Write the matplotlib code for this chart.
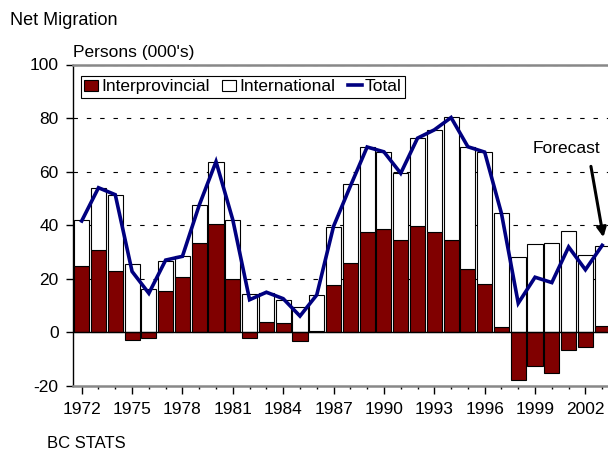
import matplotlib
matplotlib.use("Agg")
import matplotlib.pyplot as plt
import numpy as np
from matplotlib.patches import Patch
from matplotlib.lines import Line2D
from matplotlib.ticker import MultipleLocator, FixedLocator

plt.rcParams['font.family'] = ['Liberation Sans', 'DejaVu Sans']
plt.rcParams['axes.unicode_minus'] = False

years = list(range(1972, 2004))
interprovincial = [24.9, 30.6, 22.75, -2.9, -1.9, 15.4, 20.75, 33.5, 40.5, 20.0,
                   -2.0, 4.0, 3.5, -3.25, 0.6, 17.6, 26.0, 37.4, 38.6, 34.6,
                   39.9, 37.4, 34.5, 23.5, 17.9, 2.0, -17.6, -12.4, -15.0, -6.4,
                   -5.4, 2.25]
international = [17.0, 23.4, 28.65, 25.5, 16.25, 11.35, 7.65, 14.0, 23.25, 22.1,
                 14.25, 10.6, 8.75, 9.4, 13.3, 21.8, 29.4, 31.85, 28.8, 25.0,
                 32.6, 38.2, 45.75, 45.75, 49.35, 42.4, 28.25, 32.9, 33.4, 38.0,
                 28.9, 29.85]
total = [41.6, 54.0, 51.4, 22.75, 14.6, 27.0, 28.4, 47.5, 63.75, 42.0,
         12.2, 15.0, 12.6, 6.1, 14.0, 39.6, 54.6, 69.2, 67.4, 59.4,
         72.5, 75.6, 80.2, 69.3, 67.3, 44.4, 10.9, 20.6, 18.6, 31.9,
         23.4, 32.5]
tick_years = list(range(1972, 2003, 3))

W, H = 608, 449
fig = plt.figure(figsize=(W / 100, H / 100), dpi=100)
left, right, top, bottom = 73.3, 610.6, 64.5, 386.0
ax = fig.add_axes([left / W, 1 - bottom / H, (right - left) / W, (bottom - top) / H])

FS = 12.5

x = np.array(years)
ip = np.array(interprovincial)
it = np.array(international)
bw = 0.9
ax.bar(x, ip, width=bw, color='#800000', edgecolor='black', linewidth=0.8, zorder=3)
ax.bar(x, it, width=bw, bottom=np.maximum(ip, 0), color='white', edgecolor='black',
       linewidth=0.8, zorder=3)
ax.plot(x, total, color='#000080', linewidth=2.6, zorder=5, solid_joinstyle='miter')

ax.set_xlim(1971.5, 2003.5)
ax.set_ylim(-20, 100)
ax.set_yticks(range(-20, 101, 20))
ax.xaxis.set_major_locator(FixedLocator(tick_years))
ax.xaxis.set_minor_locator(MultipleLocator(1))
ax.set_xticklabels([str(y) for y in tick_years])
ax.tick_params(axis='x', which='major', length=5.8, width=1, labelsize=FS, pad=5.5)
ax.tick_params(axis='x', which='minor', length=2.4, width=1)
ax.tick_params(axis='y', length=5, width=1, labelsize=FS, pad=5.5)

for yv in [20, 40, 60, 80, 100]:
    ax.axhline(yv, color='black', linestyle=(0, (4, 8)), linewidth=0.8, zorder=1)
ax.axhline(0, color='black', linewidth=1.0, zorder=4)

ax.spines['right'].set_visible(False)
ax.spines['top'].set_color('#888888')
ax.spines['top'].set_linewidth(1.8)
ax.spines['bottom'].set_color('#888888')
ax.spines['bottom'].set_linewidth(1.8)
ax.spines['left'].set_color('black')
ax.spines['left'].set_linewidth(1.0)

handles = [Patch(facecolor='#800000', edgecolor='black', linewidth=0.8),
           Patch(facecolor='white', edgecolor='black', linewidth=0.8),
           Line2D([0], [0], color='#000080', linewidth=2.6)]
leg = fig.legend(handles, ['Interprovincial', 'International', 'Total'],
                 loc='upper left', bbox_to_anchor=(80.7 / W, 1 - 75.7 / H),
                 ncol=3, fontsize=FS, frameon=True, fancybox=False,
                 edgecolor='black', framealpha=1, borderaxespad=0,
                 handlelength=0.8, handleheight=0.6, handletextpad=0.2,
                 columnspacing=0.7, borderpad=0.2)
leg.get_frame().set_linewidth(0.8)
leg.set_zorder(10)

ax.text(2000.87, 66.9, 'Forecast', ha='center', va='baseline', fontsize=FS, zorder=6)
ax.annotate('', xy=(2003.1, 34.5), xytext=(2002.3, 63),
            arrowprops=dict(arrowstyle='-|>', color='black', lw=2.2, mutation_scale=14),
            zorder=6)

fig.text(10 / W, 1 - 25 / H, 'Net Migration', fontsize=13, ha='left', va='baseline')
fig.text(73 / W, 1 - 57 / H, "Persons (000's)", fontsize=FS, ha='left', va='baseline')
fig.text(47 / W, 1 - 447.5 / H, 'BC STATS', fontsize=12, ha='left', va='baseline')

fig.savefig('out.png', dpi=100)
